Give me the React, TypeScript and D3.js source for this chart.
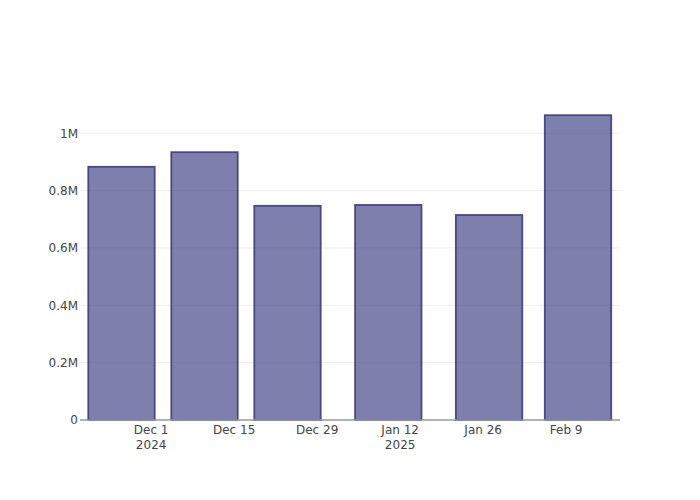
import React from "react";
import * as d3 from "d3";

const barDates: string[] = ["2024-11-26", "2024-12-10", "2024-12-24", "2025-01-10", "2025-01-27", "2025-02-11"];
const barValues: number[] = [883000, 934000, 747000, 750000, 715000, 1063000];
const yTickValues: number[] = [0, 200000, 400000, 600000, 800000, 1000000];
const yTickLabels: string[] = ["0", "0.2M", "0.4M", "0.6M", "0.8M", "1M"];
const xTickDates: string[] = ["2024-12-01", "2024-12-15", "2024-12-29", "2025-01-12", "2025-01-26", "2025-02-09"];
const xTickLabels: string[][] = [["Dec 1", "2024"], ["Dec 15"], ["Dec 29"], ["Jan 12", "2025"], ["Jan 26"], ["Feb 9"]];

const W = 700, H = 500;
const L = 80, R = 620, T = 100, B = 420;
const DAY = 86400000;
const parse = (s: string) => new Date(s + "T00:00:00Z");

export default function App() {
  const x = d3.scaleUtc()
    .domain([new Date(parse("2024-11-19").getTime()), new Date(parse("2025-02-18").getTime() + 2 * 3600000)])
    .range([L, R]);
  const y = d3.scaleLinear().domain([0, 1116000]).range([B, T]);
  const halfW = 5.6 * DAY;
  const font = '"DejaVu Sans", verdana, arial, sans-serif';

  return (
    <svg width={W} height={H} style={{ position: "absolute", left: 0, top: 0, background: "#fff" }}>
      {yTickValues.map((v, i) => (
        i > 0 ? <line key={"g" + i} x1={L} x2={R} y1={y(v)} y2={y(v)} stroke="#eee" strokeWidth={1} /> : null
      ))}
      {barDates.map((d, i) => {
        const t = parse(d).getTime();
        const x0 = x(new Date(t - halfW));
        const x1 = x(new Date(t + halfW));
        return (
          <rect key={"b" + i} x={x0} y={y(barValues[i])} width={x1 - x0} height={y(0) - y(barValues[i])}
            fill="rgb(73,73,139)" fillOpacity={0.7} stroke="rgb(66,66,134)" strokeOpacity={0.95} strokeWidth={1.8} />
        );
      })}
      <line x1={L} x2={R} y1={B} y2={B} stroke="#999" strokeWidth={1.5} />
      {yTickValues.map((v, i) => (
        <text key={"yl" + i} x={78} y={y(v)} dy="0.36em" textAnchor="end" fontFamily={font} fontSize={12} fill="#444">
          {yTickLabels[i]}
        </text>
      ))}
      {xTickDates.map((d, i) => (
        <text key={"xl" + i} x={x(parse(d))} y={433.5} textAnchor="middle" fontFamily={font} fontSize={12} fill="#444">
          {xTickLabels[i].map((s, j) => (
            <tspan key={j} x={x(parse(d))} dy={j === 0 ? 0 : 15.6}>{s}</tspan>
          ))}
        </text>
      ))}
    </svg>
  );
}
